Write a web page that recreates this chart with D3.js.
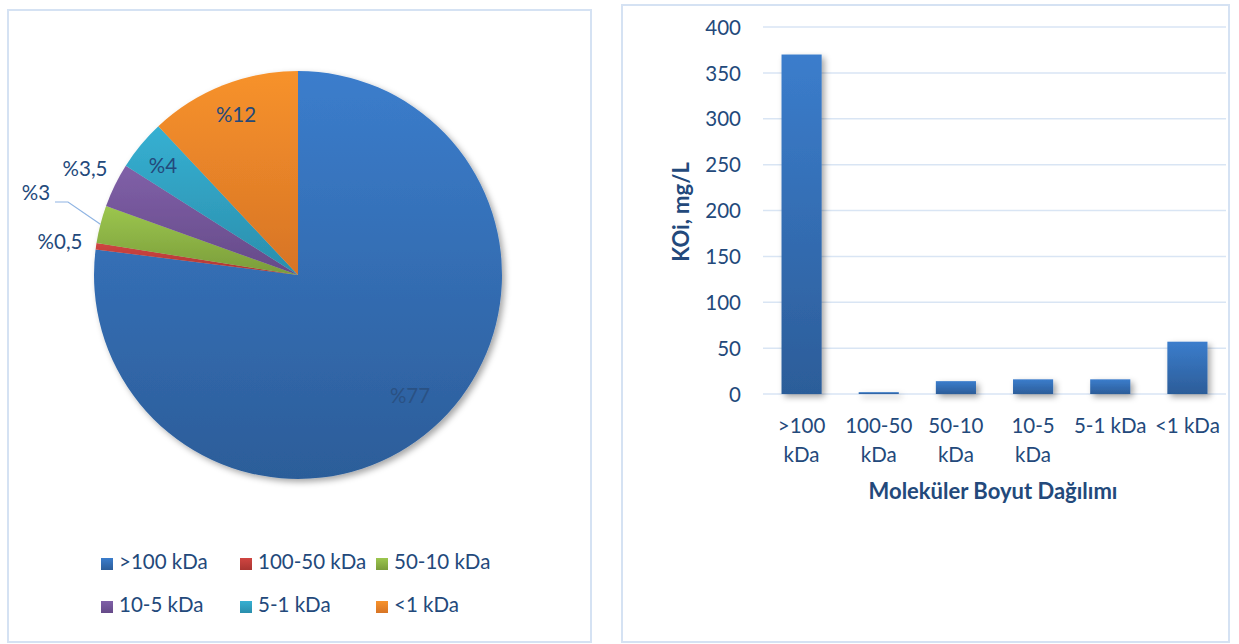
<!DOCTYPE html>
<html><head><meta charset="utf-8">
<script src="https://cdn.jsdelivr.net/npm/d3@7"></script>
<style>body{margin:0;background:#fff}svg{display:block}</style>
</head><body>
<script>
const categories = [">100 kDa", "100-50 kDa", "50-10 kDa", "10-5 kDa", "5-1 kDa", "<1 kDa"];
const piePercents = [77, 0.5, 3, 3.5, 4, 12];
const pieLabels = ["%77", "%0,5", "%3", "%3,5", "%4", "%12"];
const barValues = [370, 2, 14, 16, 16, 57];
const barTickLabels = [[">100", "kDa"], ["100-50", "kDa"], ["50-10", "kDa"], ["10-5", "kDa"], ["5-1 kDa"], ["<1 kDa"]];
const yTicks = [0, 50, 100, 150, 200, 250, 300, 350, 400];
const colorsTop = ["#3b7dcc", "#d04541", "#9cc64e", "#8060a8", "#36b0d2", "#f7922c"];
const colorsBot = ["#2c5d99", "#a93531", "#7a9c3a", "#654a88", "#2a8eac", "#d77425"];

const W = 1239, H = 644;
const font = "Lato, 'Open Sans', sans-serif";
const fs = 20.5, fsb = 22;
const txt = "#23497b";
const svg = d3.select("body").append("svg").attr("width", W).attr("height", H);
const defs = svg.append("defs");
colorsTop.forEach((c, i) => {
  const g = defs.append("linearGradient").attr("id", "g" + i).attr("x1", 0).attr("y1", 0).attr("x2", 0).attr("y2", 1);
  g.append("stop").attr("offset", 0).attr("stop-color", c);
  g.append("stop").attr("offset", 1).attr("stop-color", colorsBot[i]);
});
const bg = defs.append("linearGradient").attr("id", "barg").attr("x1", 0).attr("y1", 0).attr("x2", 0).attr("y2", 1);
bg.append("stop").attr("offset", 0).attr("stop-color", "#3b7dcc");
bg.append("stop").attr("offset", 1).attr("stop-color", "#2c5d99");
const f = defs.append("filter").attr("id", "sh").attr("x", "-20%").attr("y", "-20%").attr("width", "140%").attr("height", "140%");
f.append("feDropShadow").attr("dx", 3).attr("dy", 3).attr("stdDeviation", 3).attr("flood-color", "#000").attr("flood-opacity", 0.35);

// panels
svg.append("rect").attr("x", 8).attr("y", 10).attr("width", 583).attr("height", 632).attr("fill", "#fff").attr("stroke", "#d5e2f3").attr("stroke-width", 2);
svg.append("rect").attr("x", 622).attr("y", 5).attr("width", 607).attr("height", 637).attr("fill", "#fff").attr("stroke", "#d5e2f3").attr("stroke-width", 2);

// PIE
const cx = 298, cy = 275, R = 204;
const pie = d3.pie().sort(null).value(d => d)(piePercents);
const arc = d3.arc().innerRadius(0).outerRadius(R);
const pg = svg.append("g").attr("transform", `translate(${cx},${cy})`);
pg.append("g").attr("filter", "url(#sh)").selectAll("path").data(pie).join("path")
  .attr("d", arc).attr("fill", (d, i) => `url(#g${i})`);
// labels
const labelPos = [[112, 123], [-238, -31], [-262, -80], [-213, -104], [-135, -107], [-62, -158]];
pg.selectAll("text.pl").data(pie).join("text").attr("class", "pl")
  .attr("x", (d, i) => labelPos[i][0]).attr("y", (d, i) => labelPos[i][1])
  .attr("text-anchor", "middle").attr("dominant-baseline", "middle")
  .attr("font-family", font).attr("font-size", fs)
  .attr("fill", (d, i) => i === 0 ? "#2a5183" : txt)
  .text((d, i) => pieLabels[i]);
// leader line for %3
const mid3 = (pie[2].startAngle + pie[2].endAngle) / 2;
const ex = Math.sin(mid3) * R, ey = -Math.cos(mid3) * R;
pg.append("polyline").attr("points", `${-243},${-73} ${-230},${-73} ${ex},${ey}`)
  .attr("fill", "none").attr("stroke", "#8fb4e3").attr("stroke-width", 1.2);

// legend
const leg = svg.append("g");
const legPos = [[101, 564], [240, 564], [376, 564], [101, 607], [240, 607], [376, 607]];
categories.forEach((c, i) => {
  leg.append("rect").attr("x", legPos[i][0]).attr("y", legPos[i][1] - 6).attr("width", 12).attr("height", 12).attr("fill", `url(#g${i})`);
  leg.append("text").attr("x", legPos[i][0] + 18).attr("y", legPos[i][1]).attr("dominant-baseline", "middle")
    .attr("font-family", font).attr("font-size", fs).attr("fill", txt).text(c);
});

// BAR
const x0 = 763, x1 = 1226, y0 = 394, y1 = 27;
const x = d3.scaleBand().domain(categories).range([x0, x1]).paddingInner(0.48).paddingOuter(0.24);
const y = d3.scaleLinear().domain([0, 400]).range([y0, y1]);
const bgp = svg.append("g");
bgp.selectAll("line.grid").data(yTicks).join("line").attr("class", "grid")
  .attr("x1", x0).attr("x2", x1).attr("y1", d => y(d)).attr("y2", d => y(d))
  .attr("stroke", "#d9e5f4").attr("stroke-width", 1.5);
const yAxis = d3.axisLeft(y).tickValues(yTicks).tickSize(0).tickPadding(0);
const ya = bgp.append("g").attr("transform", `translate(741,0)`).call(yAxis);
ya.select(".domain").remove();
ya.selectAll("text").attr("font-family", font).attr("font-size", fs).attr("fill", txt).attr("dy", "0.35em");
bgp.append("g").attr("filter", "url(#sh)").selectAll("rect").data(barValues).join("rect")
  .attr("x", (d, i) => x(categories[i])).attr("width", x.bandwidth())
  .attr("y", d => y(d)).attr("height", d => y0 - y(d))
  .attr("fill", "url(#barg)");
const xl = bgp.append("g");
categories.forEach((c, i) => {
  const t = xl.append("text").attr("x", x(c) + x.bandwidth() / 2).attr("y", 433)
    .attr("text-anchor", "middle").attr("font-family", font).attr("font-size", fs).attr("fill", txt);
  barTickLabels[i].forEach((s, j) => t.append("tspan").attr("x", x(c) + x.bandwidth() / 2).attr("dy", j === 0 ? 0 : 29).text(s));
});
bgp.append("text").attr("x", 993).attr("y", 499).attr("text-anchor", "middle")
  .attr("font-family", font).attr("font-size", fsb).attr("font-weight", "bold").attr("fill", txt)
  .text("Moleküler Boyut Dağılımı");
bgp.append("text").attr("transform", `translate(689,212) rotate(-90)`).attr("text-anchor", "middle")
  .attr("font-family", font).attr("font-size", fsb).attr("font-weight", "bold").attr("fill", txt)
  .text("KOi, mg/L");
</script>
</body></html>
